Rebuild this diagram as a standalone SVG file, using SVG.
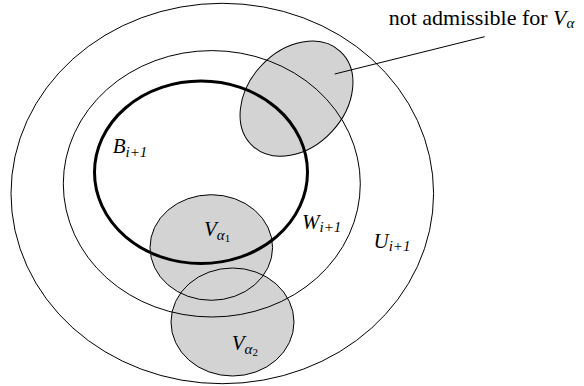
<svg xmlns="http://www.w3.org/2000/svg" width="584" height="386" viewBox="0 0 584 386">
<style>
.line{fill:none;stroke:#000;stroke-width:1}
.thick{fill:none;stroke:#000;stroke-width:3}
.fill{fill:#d3d3d3;stroke:none}
.lbl{font-family:"Liberation Serif","DejaVu Serif","Times New Roman",serif;font-size:21px;font-style:italic;fill:#000}
.sub{font-size:15px}
.note{font-family:"Liberation Serif","DejaVu Serif","Times New Roman",serif;font-size:22px;fill:#000}
</style>
<rect width="584" height="386" fill="#fff"/>
<g id="fills">
<ellipse class="fill" cx="0" cy="0" rx="64.5" ry="48.3" transform="translate(296.5,98.7) rotate(-47)"/>
<ellipse class="fill" cx="211.3" cy="247.5" rx="61.3" ry="52.8"/>
<ellipse class="fill" cx="232.5" cy="322" rx="61.5" ry="54"/>
</g>
<g id="U">
<ellipse class="line" cx="222.3" cy="193.5" rx="211.3" ry="190.2"/>
<text class="lbl" x="373.5" y="247.5">U<tspan class="sub" dy="3.5">i+1</tspan></text>
</g>
<g id="W">
<ellipse class="line" cx="211.8" cy="183.8" rx="148.5" ry="133.2"/>
<text class="lbl" x="302" y="228.5">W<tspan class="sub" dy="3.5">i+1</tspan></text>
</g>
<g id="Vna">
<ellipse class="line" cx="0" cy="0" rx="64.5" ry="48.3" transform="translate(296.5,98.7) rotate(-47)"/>
</g>
<g id="Va1">
<ellipse class="line" cx="211.3" cy="247.5" rx="61.3" ry="52.8"/>
<text class="lbl" x="204" y="235.7">V<tspan class="sub" dy="4">α<tspan font-style="normal" font-size="11" dy="2">1</tspan></tspan></text>
</g>
<g id="Va2">
<ellipse class="line" cx="232.5" cy="322" rx="61.5" ry="54"/>
<text class="lbl" x="231.7" y="349.7">V<tspan class="sub" dy="4">α<tspan font-style="normal" font-size="11" dy="2">2</tspan></tspan></text>
</g>
<g id="B">
<ellipse class="thick" cx="201" cy="172.3" rx="106.5" ry="91.3"/>
<text class="lbl" x="112.7" y="153.3">B<tspan class="sub" dy="3.5">i+1</tspan></text>
</g>
<g id="connectors">
<line class="line" x1="334.7" y1="74" x2="484.7" y2="36.7"/>
</g>
<g id="note">
<text class="note" x="388.7" y="25">not admissible for <tspan font-style="italic">V</tspan><tspan font-style="italic" font-size="15" dy="3.3">α</tspan></text>
</g>
</svg>
